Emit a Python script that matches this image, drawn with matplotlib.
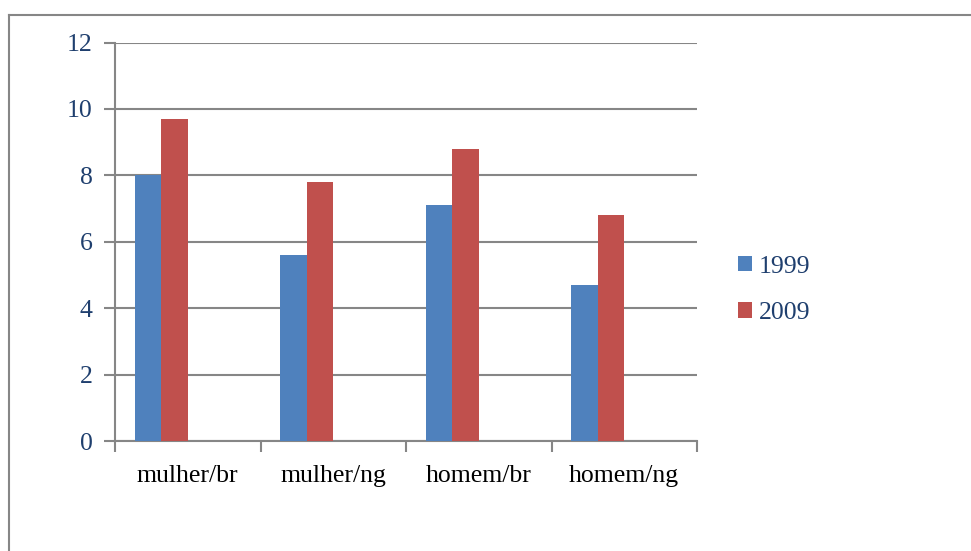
import matplotlib.pyplot as plt
import numpy as np
from matplotlib.lines import Line2D

categories = ["mulher/br", "mulher/ng", "homem/br", "homem/ng"]
series_names = ["1999", "2009"]
values_1999 = [8.0, 5.6, 7.1, 4.7]
values_2009 = [9.7, 7.8, 8.8, 6.8]

blue = "#4F81BD"
red = "#C0504D"
grid_grey = "#868686"
text_blue = "#1F3F6E"

plt.rcParams["font.family"] = ["Liberation Serif", "DejaVu Serif"]

fig = plt.figure(figsize=(9.71, 5.51), dpi=100)
ax = fig.add_axes([115 / 971, 1 - 441 / 551, (697 - 115) / 971, (441 - 42.5) / 551])

# Excel clustered layout: 4 slots per group, gap 150%
x = np.arange(len(categories))
w = 1 / 5.5
b1 = ax.bar(x - 1.5 * w, values_1999, width=w, color=blue, label=series_names[0], zorder=3)
b2 = ax.bar(x - 0.5 * w, values_2009, width=w, color=red, label=series_names[1], zorder=3)

ax.set_xlim(-0.5, len(categories) - 0.5)
ax.set_ylim(0, 12)
ax.set_yticks(np.arange(0, 13, 2))
ax.yaxis.grid(True, color=grid_grey, linewidth=1.5, zorder=0)
ax.set_axisbelow(True)

ax.set_xticks(x)
ax.set_xticklabels(categories)
ax.set_xticks(np.arange(-0.5, len(categories)), minor=True)
ax.tick_params(axis="x", which="major", length=0, pad=17, labelsize=18.5, labelcolor="black")
ax.tick_params(axis="x", which="minor", length=8, width=1.5, color=grid_grey, direction="out")
ax.tick_params(axis="y", length=8, width=1.5, color=grid_grey, pad=8, labelsize=18.5,
               labelcolor=text_blue)

for s in ["top", "right"]:
    ax.spines[s].set_visible(False)
for s in ["left", "bottom"]:
    ax.spines[s].set_color(grid_grey)
    ax.spines[s].set_linewidth(1.5)

# legend
leg = fig.legend(handles=[b1, b2], loc="center left",
                 bbox_to_anchor=(738 / 971, 1 - 290 / 551), frameon=False,
                 fontsize=18.5, handlelength=0.55, handleheight=0.55,
                 handletextpad=0.25, labelspacing=0.95, borderpad=0, borderaxespad=0)
for t in leg.get_texts():
    t.set_color(text_blue)

# outer chart border (top and left visible)
fig.add_artist(Line2D([9 / 971, 1.0], [1 - 15 / 551, 1 - 15 / 551],
                      transform=fig.transFigure, color=grid_grey, linewidth=1.5))
fig.add_artist(Line2D([9 / 971, 9 / 971], [1 - 15 / 551, 0.0],
                      transform=fig.transFigure, color=grid_grey, linewidth=1.5))

fig.savefig("out.png", dpi=100)
